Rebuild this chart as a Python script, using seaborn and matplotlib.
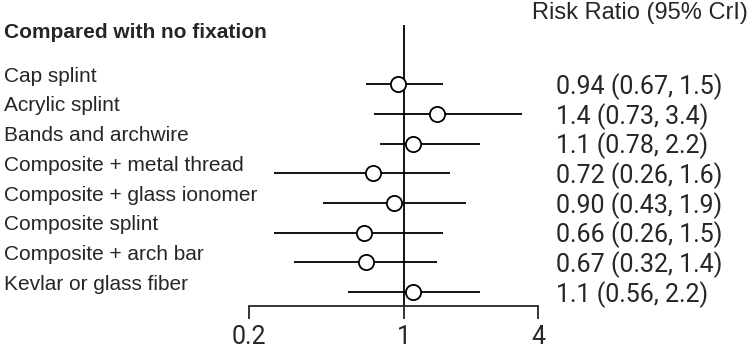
import numpy as np
import pandas as pd
import seaborn as sns
import matplotlib.pyplot as plt
from matplotlib import transforms

# --- Data ---
treatments = ["Cap splint", "Acrylic splint", "Bands and archwire",
              "Composite + metal thread", "Composite + glass ionomer",
              "Composite splint", "Composite + arch bar", "Kevlar or glass fiber"]
rr = [0.94, 1.4, 1.1, 0.72, 0.90, 0.66, 0.67, 1.1]
lower = [0.67, 0.73, 0.78, 0.26, 0.43, 0.26, 0.32, 0.56]
upper = [1.5, 3.4, 2.2, 1.6, 1.9, 1.5, 1.4, 2.2]
rr_labels = ["0.94", "1.4", "1.1", "0.72", "0.90", "0.66", "0.67", "1.1"]
lower_labels = ["0.67", "0.73", "0.78", "0.26", "0.43", "0.26", "0.32", "0.56"]
upper_labels = ["1.5", "3.4", "2.2", "1.6", "1.9", "1.5", "1.4", "2.2"]
xticks = [0.2, 1, 4]
xtick_labels = ["0.2", "1", "4"]

df = pd.DataFrame({"Treatment": treatments, "RR": rr, "Lower": lower, "Upper": upper})
df["row"] = np.arange(len(df))

sns.set_style("white")
plt.rcParams["font.family"] = ["Liberation Sans", "DejaVu Sans"]

W, H = 750, 348
fig = plt.figure(figsize=(W / 100, H / 100), dpi=100)
# axes spans x = 0.2..4 and from the top of the reference line down to the axis
ax = fig.add_axes([249 / W, 1 - 306 / H, (538 - 249) / W, (306 - 25) / H])

ax.set_xscale("log")
ax.set_xlim(0.2, 4)
ax.set_ylim(7.47, -1.99)

ax.axvline(1, color="black", lw=1.3, zorder=1)
ax.hlines(df["row"], df["Lower"], df["Upper"], color="black", lw=1.3, zorder=2)
sns.scatterplot(data=df, x="RR", y="row", ax=ax, s=120, marker="o",
                facecolor="white", edgecolor="black", linewidth=1.3, zorder=3, legend=False)

for s in ["top", "right", "left"]:
    ax.spines[s].set_visible(False)
ax.spines["bottom"].set_linewidth(1.3)
ax.set_yticks([])
ax.set_xticks(xticks)
ax.set_xticklabels(xtick_labels, fontfamily="Roboto", fontsize=18)
ax.minorticks_off()
ax.tick_params(axis="x", direction="out", length=9, width=1.3, pad=4.5, bottom=True)
ax.set_xlabel("")
ax.set_ylabel("")

left_tr = transforms.blended_transform_factory(fig.transFigure, ax.transData)
for i, name in enumerate(treatments):
    ax.text(4 / W, i - 0.08, name, transform=left_tr, ha="left", va="baseline",
            fontsize=15, clip_on=False)
    ax.text(556 / W, i + 0.33, f"{rr_labels[i]} ({lower_labels[i]}, {upper_labels[i]})",
            transform=left_tr, ha="left", va="baseline", fontsize=18,
            fontfamily="Roboto", clip_on=False)

fig.text(4 / W, 1 - 32 / H, "Compared with no fixation", ha="left", va="center",
         fontsize=15, fontweight="bold")
fig.text(748 / W, 1 - 13 / H, "Risk Ratio (95% CrI)", ha="right", va="center",
         fontsize=17)

fig.savefig("out.png", dpi=100)
